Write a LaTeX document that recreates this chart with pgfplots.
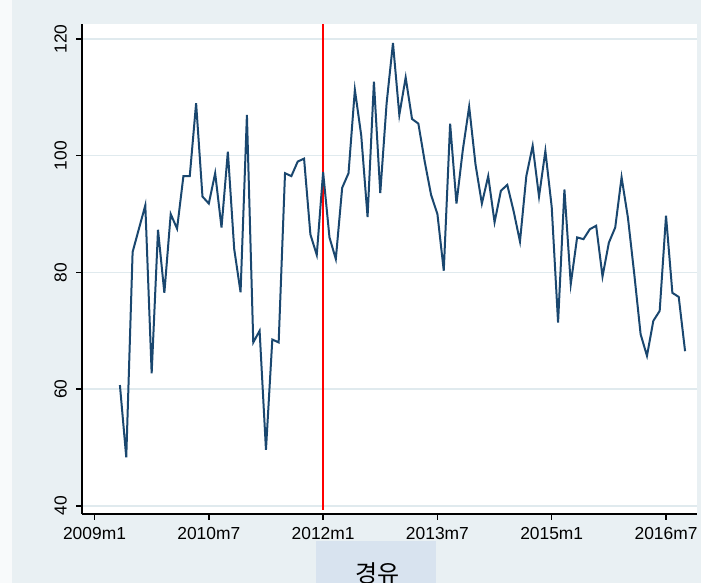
\documentclass[border=0pt]{standalone}
\usepackage{fontspec}
\setmainfont{Liberation Sans}
\newfontfamily\kr{Noto Sans CJK KR}
\usepackage{pgfplots}
\usepackage{pgfplotstable}
\pgfplotsset{compat=1.18}

\definecolor{bgblue}{RGB}{233,240,243}
\definecolor{gridc}{RGB}{224,234,238}
\definecolor{stnavy}{RGB}{26,71,111}
\definecolor{lblbox}{RGB}{216,227,239}

% month index: 0 = 2009m1
\pgfplotstableread{
t  v
4  60.7
5  48.3
6  83.5
7  87.5
8  91.5
9  62.7
10 87.3
11 76.5
12 90.0
13 87.5
14 96.5
15 96.5
16 109.0
17 93.0
18 91.8
19 97.0
20 87.7
21 100.7
22 84.0
23 76.6
24 107.0
25 68.0
26 70.0
27 49.6
28 68.5
29 68.0
30 97.0
31 96.5
32 99.0
33 99.5
34 86.5
35 83.0
36 97.2
37 86.0
38 82.3
39 94.5
40 97.0
41 111.3
42 103.5
43 89.5
44 112.7
45 93.6
46 109.0
47 119.3
48 107.0
49 113.4
50 106.3
51 105.5
52 99.0
53 93.3
54 90.0
55 80.3
56 105.5
57 91.8
58 101.0
59 108.4
60 98.5
61 91.8
62 96.5
63 88.6
64 94.0
65 95.0
66 90.5
67 85.3
68 96.5
69 101.7
70 93.0
71 100.8
72 91.2
73 71.4
74 94.2
75 78.0
76 86.0
77 85.7
78 87.4
79 88.0
80 79.3
81 85.1
82 87.7
83 96.3
84 89.4
85 79.7
86 69.4
87 65.7
88 71.7
89 73.4
90 89.7
91 76.5
92 75.8
93 66.5
}\diesel

\begin{document}
\begin{tikzpicture}
% graph region, 1px = 0.5pt
\fill[bgblue] (0,0) rectangle (350.5pt,291.5pt);
\fill[white!70!bgblue] (0,0) rectangle (6pt,291.5pt);
\fill[lblbox] (158pt,0) rectangle (218pt,21pt);

\begin{axis}[
  at={(41pt,34.5pt)}, anchor=south west,
  scale only axis,
  width=307.5pt, height=245pt,
  xmin=-1.97, xmax=94.88,
  ymin=38.6, ymax=122.57,
  axis background/.style={fill=white},
  axis x line*=bottom, axis y line*=left,
  axis line style={black, line width=0.8pt},
  xtick={0,18,36,54,72,90},
  xticklabels={2009m1,2010m7,2012m1,2013m7,2015m1,2016m7},
  ytick={40,60,80,100,120},
  tick align=outside,
  major tick length=3pt,
  tick style={black, line width=0.7pt},
  ymajorgrids,
  grid style={gridc, line width=0.7pt},
  /pgf/number format/assume math mode=true,
  tick label style={font=\fontsize{8.7}{10}\selectfont},
  yticklabel style={rotate=90, anchor=south, inner ysep=4.4pt},
  xlabel={\kr 경유},
  xlabel style={at={(axis description cs:0.48,0)}, anchor=north,
    yshift=-21pt, font=\fontsize{12}{14}\selectfont},
]
\addplot[red, line width=0.9pt] coordinates {(36,39.3) (36,122.57)};
\addplot[stnavy, line width=1pt] table[x=t, y=v] {\diesel};
\end{axis}

\pgfresetboundingbox
\useasboundingbox (0,0) rectangle (350.5pt,291.5pt);
\end{tikzpicture}
\end{document}
